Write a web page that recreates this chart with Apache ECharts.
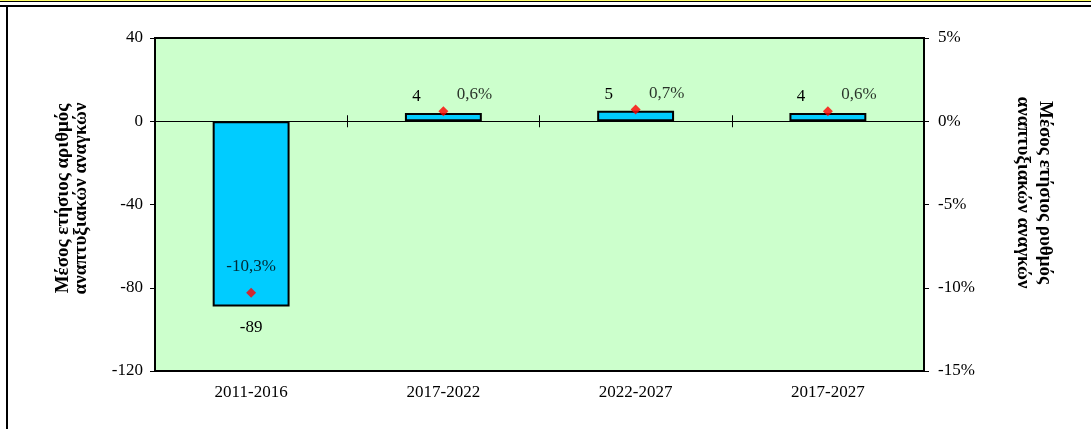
<!DOCTYPE html>
<html>
<head>
<meta charset="utf-8">
<script src="https://cdn.jsdelivr.net/npm/echarts@6/dist/echarts.min.js"></script>
<style>
html,body{margin:0;padding:0;background:#fff;}
#c{width:1091px;height:429px;}
</style>
</head>
<body>
<div id="c"></div>
<script>
var categories = ['2011-2016', '2017-2022', '2022-2027', '2017-2027'];
var needs = [-89, 4, 5, 4];
var rates = [-10.3, 0.6, 0.7, 0.6];
var leftAxisName = 'Μέσος ετήσιος αριθμός\nαναπτυξιακών αναγκών';
var rightAxisName = 'Μέσος ετήσιος ρυθμός\nαναπτυξιακών αναγκών';

var FONT = '"Liberation Serif", "DejaVu Serif", serif';
function fmtRate(v) { return v.toFixed(1).replace('.', ',') + '%'; }

var barData = needs.map(function (v, i) {
  if (v < 0) {
    return { value: v, label: { position: 'bottom', distance: 13, offset: [0, 0] } };
  }
  return { value: v, label: { position: 'top', distance: 8, offset: [-27, 0] } };
});
var rateData = rates.map(function (v, i) {
  if (v < 0) {
    return { value: v, label: { position: 'top', distance: 13, offset: [0, 0] } };
  }
  return { value: v, label: { position: 'top', distance: 3, offset: [31, 0] } };
});

var chart = echarts.init(document.getElementById('c'));
chart.setOption({
  animation: false,
  backgroundColor: '#ffffff',
  textStyle: { fontFamily: FONT },
  graphic: [
    { type: 'rect', shape: { x: 0, y: 0, width: 1091, height: 1 }, style: { fill: '#ffff66' } },
    { type: 'rect', shape: { x: 0, y: 1, width: 1091, height: 1 }, style: { fill: '#000' } },
    { type: 'rect', shape: { x: 0, y: 5, width: 1091, height: 2 }, style: { fill: '#000' } },
    { type: 'rect', shape: { x: 6, y: 5, width: 2, height: 424 }, style: { fill: '#000' } }
  ],
  grid: {
    left: 155, right: 167, top: 38, bottom: 58,
    show: true, backgroundColor: '#ccffcc', borderColor: '#000', borderWidth: 2
  },
  xAxis: [
    {
      type: 'category', data: categories, position: 'bottom',
      axisLine: { show: false, onZero: false },
      axisTick: { show: false },
      axisLabel: { fontFamily: FONT, fontSize: 17, color: '#000', margin: 13 }
    },
    {
      type: 'category', data: categories, position: 'bottom',
      axisLine: { show: true, onZero: true, lineStyle: { color: '#000', width: 1 } },
      axisTick: { show: true, inside: true, length: 6, lineStyle: { color: '#000', width: 1 } },
      axisLabel: { show: false }
    },
    {
      type: 'category', data: categories, position: 'bottom',
      axisLine: { show: false, onZero: true },
      axisTick: { show: true, inside: false, length: 6, lineStyle: { color: '#000', width: 1 } },
      axisLabel: { show: false }
    }
  ],
  yAxis: [
    {
      type: 'value', min: -120, max: 40, interval: 40, position: 'left',
      splitLine: { show: false },
      axisLine: { show: true, lineStyle: { color: '#000', width: 2 } },
      axisTick: { show: true, length: 5, lineStyle: { color: '#000' } },
      axisLabel: { fontFamily: FONT, fontSize: 17, color: '#000', margin: 12 },
      name: leftAxisName, nameLocation: 'middle', nameRotate: 90, nameGap: 65,
      nameTextStyle: { fontFamily: FONT, fontSize: 19, fontWeight: 'bold', color: '#000', lineHeight: 18, padding: [0, 0, 0, 12] }
    },
    {
      type: 'value', min: -15, max: 5, interval: 5, position: 'right',
      splitLine: { show: false },
      axisLine: { show: true, lineStyle: { color: '#000', width: 2 } },
      axisTick: { show: true, length: 5, lineStyle: { color: '#000' } },
      axisLabel: { fontFamily: FONT, fontSize: 17, color: '#000', margin: 14, formatter: '{value}%' },
      name: rightAxisName, nameLocation: 'middle', nameRotate: -90, nameGap: 88,
      nameTextStyle: { fontFamily: FONT, fontSize: 19, fontWeight: 'bold', color: '#000', lineHeight: 22, padding: [0, 24, 0, 0] }
    }
  ],
  series: [
    {
      type: 'bar', xAxisIndex: 0, yAxisIndex: 0, data: barData, barWidth: '40%',
      itemStyle: { color: '#00ccff', borderColor: '#000', borderWidth: 2 },
      label: { show: true, fontFamily: FONT, fontSize: 17, color: '#000' },
      z: 3
    },
    {
      type: 'scatter', xAxisIndex: 0, yAxisIndex: 1, data: rateData,
      symbol: 'diamond', symbolSize: 10,
      itemStyle: { color: '#ff0000' },
      label: {
        show: true, fontFamily: FONT, fontSize: 17, color: '#000',
        formatter: function (p) { return fmtRate(p.value); }
      },
      z: 5
    }
  ]
});
</script>
</body>
</html>
